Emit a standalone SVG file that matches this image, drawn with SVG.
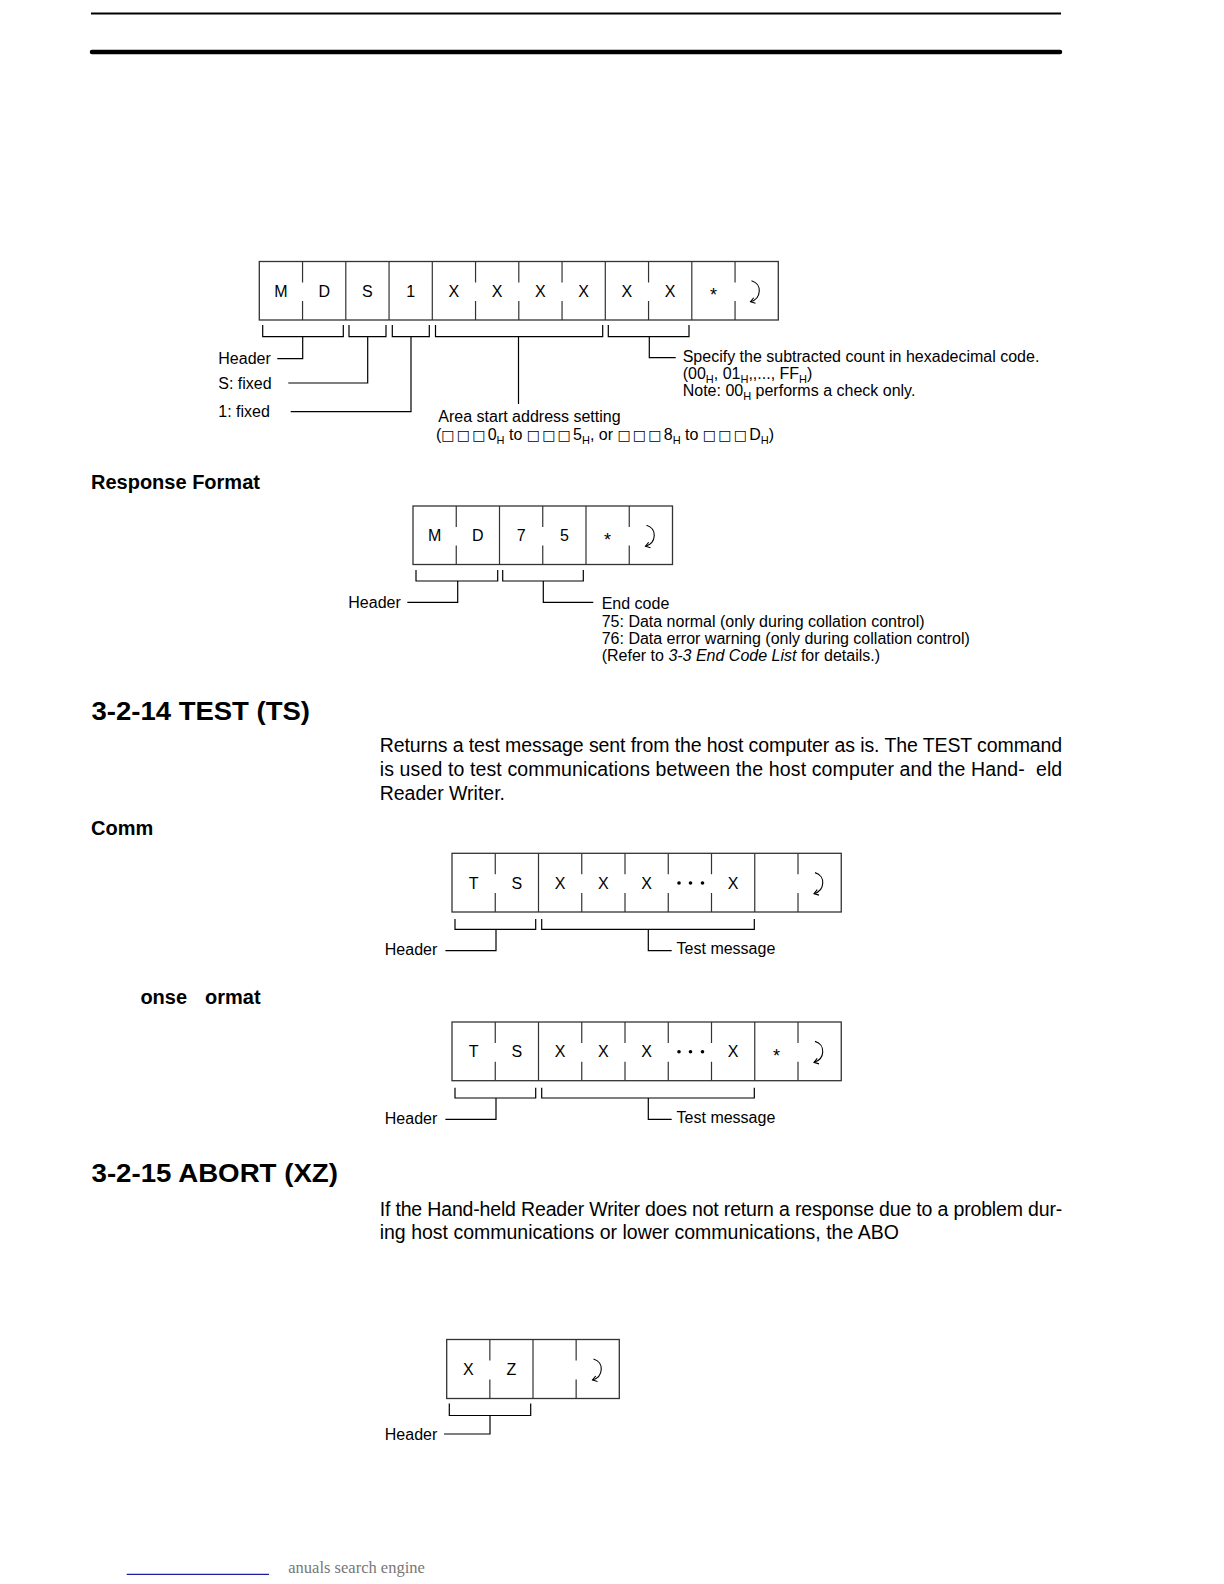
<svg xmlns="http://www.w3.org/2000/svg" xmlns:xlink="http://www.w3.org/1999/xlink" width="1224" height="1584" viewBox="0 0 1224 1584">
<style>
text{font-family:"Liberation Sans",Arial,sans-serif;fill:#000}
.cell{font-size:16px;text-anchor:middle}
.ast{font-size:18px;text-anchor:middle}
.lbl{font-size:16px}
.s{font-size:11px}
.sq{font-family:"DejaVu Sans",sans-serif;font-size:14px;letter-spacing:2.2px}
.h2{font-size:20px;font-weight:bold}
.h1{font-size:26px;font-weight:bold}
.body{font-size:19.5px}
.frame{fill:none;stroke:#333;stroke-width:1.3}
.sep{stroke:#333;stroke-width:1.2}
.br{fill:none;stroke:#000;stroke-width:1.2}
.cr{fill:none;stroke:#000;stroke-width:1.1}
</style>
<defs>
<g id="cr">
<path class="cr" d="M-3,-10 C8,-7 7,8 -4,11"/>
<path class="cr" d="M-0.8,7 L-4,11 L1,12.5"/>
</g>
</defs>

<g id="page-rules">
<line x1="91" y1="13.5" x2="1061" y2="13.5" stroke="#000" stroke-width="2"/>
<line x1="92" y1="52" x2="1060" y2="52" stroke="#000" stroke-width="4.5" stroke-linecap="round"/>
</g>

<!-- Frame A: MDS1 command -->
<g id="frame-mds1">
<rect class="frame" x="259.3" y="261.5" width="519" height="58.5"/>
<path class="sep" d="M302.55,261.5v21M302.55,301v19
M345.8,261.5V320M389.05,261.5V320M432.3,261.5V320
M475.55,261.5v21M475.55,301v19
M518.8,261.5v21M518.8,301v19
M562.05,261.5v21M562.05,301v19
M605.3,261.5V320
M648.55,261.5v21M648.55,301v19
M691.8,261.5V320
M735.05,261.5v21M735.05,301v19"/>
<text class="cell" x="280.9" y="296.5">M</text>
<text class="cell" x="324.2" y="296.5">D</text>
<text class="cell" x="367.4" y="296.5">S</text>
<text class="cell" x="410.7" y="296.5">1</text>
<text class="cell" x="453.9" y="296.5">X</text>
<text class="cell" x="497.2" y="296.5">X</text>
<text class="cell" x="540.4" y="296.5">X</text>
<text class="cell" x="583.7" y="296.5">X</text>
<text class="cell" x="626.9" y="296.5">X</text>
<text class="cell" x="670.2" y="296.5">X</text>
<text class="ast" x="713.4" y="301">*</text>
<use xlink:href="#cr" x="754.5" y="290.75"/>
</g>

<g id="labels-mds1">
<text class="lbl" x="218.3" y="364">Header</text>
<text class="lbl" x="218.3" y="388.5">S: fixed</text>
<text class="lbl" x="218.3" y="416.5">1: fixed</text>
<text class="lbl" x="438.3" y="421.5">Area start address setting</text>
<text class="lbl" x="436" y="440">(<tspan class="sq">□□□</tspan>0<tspan class="s" dy="4">H</tspan><tspan dy="-4"> to </tspan><tspan class="sq">□□□</tspan>5<tspan class="s" dy="4">H</tspan><tspan dy="-4">, or </tspan><tspan class="sq">□□□</tspan>8<tspan class="s" dy="4">H</tspan><tspan dy="-4"> to </tspan><tspan class="sq">□□□</tspan>D<tspan class="s" dy="4">H</tspan><tspan dy="-4">)</tspan></text>
<text class="lbl" x="682.7" y="361.5">Specify the subtracted count in hexadecimal code.</text>
<text class="lbl" x="682.7" y="378.5">(00<tspan class="s" dy="4">H</tspan><tspan dy="-4">, 01</tspan><tspan class="s" dy="4">H</tspan><tspan dy="-4">,,..., FF</tspan><tspan class="s" dy="4">H</tspan><tspan dy="-4">)</tspan></text>
<text class="lbl" x="682.7" y="395.5">Note: 00<tspan class="s" dy="4">H</tspan><tspan dy="-4"> performs a check only.</tspan></text>
</g>

<text class="h2" x="91" y="489">Response Format</text>

<!-- Frame B: MD75 response -->
<g id="frame-md75">
<rect class="frame" x="413" y="506" width="259.5" height="58.5"/>
<path class="sep" d="M456.25,506v21M456.25,545.5v19
M499.5,506V564.5
M542.75,506v21M542.75,545.5v19
M586,506V564.5
M629.25,506v21M629.25,545.5v19"/>
<text class="cell" x="434.6" y="541">M</text>
<text class="cell" x="477.9" y="541">D</text>
<text class="cell" x="521.1" y="541">7</text>
<text class="cell" x="564.4" y="541">5</text>
<text class="ast" x="607.6" y="545.5">*</text>
<use xlink:href="#cr" x="649.5" y="535.25"/>
</g>

<g id="labels-md75">
<text class="lbl" x="348.3" y="608.3">Header</text>
<text class="lbl" x="601.7" y="608.5">End code</text>
<text class="lbl" x="601.7" y="626.5">75: Data normal (only during collation control)</text>
<text class="lbl" x="601.7" y="643.8">76: Data error warning (only during collation control)</text>
<text class="lbl" x="601.7" y="661">(Refer to <tspan font-style="italic">3-3 End Code List</tspan> for details.)</text>
</g>

<text class="h1" x="91.5" y="720" textLength="218.5" lengthAdjust="spacingAndGlyphs">3-2-14 TEST (TS)</text>

<g id="body-test">
<text class="body" x="379.7" y="752" textLength="682.5" lengthAdjust="spacing">Returns a test message sent from the host computer as is. The TEST command</text>
<text class="body" x="379.7" y="775.5" textLength="682.5" lengthAdjust="spacing">is used to test communications between the host computer and the Hand-&#160; eld</text>
<text class="body" x="379.7" y="799.5">Reader Writer.</text>
</g>

<text class="h2" x="91" y="835">Comm</text>

<!-- Frame C: TS command -->
<g id="frame-ts-cmd">
<rect class="frame" x="452" y="853.3" width="389.25" height="58.7"/>
<path class="sep" d="M495.25,853.3v21M495.25,893v19
M538.5,853.3V912
M581.75,853.3v21M581.75,893v19
M625,853.3v21M625,893v19
M668.25,853.3v21M668.25,893v19
M711.5,853.3v21M711.5,893v19
M754.75,853.3V912
M798,853.3v21M798,893v19"/>
<text class="cell" x="473.6" y="888.5">T</text>
<text class="cell" x="516.9" y="888.5">S</text>
<text class="cell" x="560.1" y="888.5">X</text>
<text class="cell" x="603.4" y="888.5">X</text>
<text class="cell" x="646.6" y="888.5">X</text>
<circle cx="679" cy="883" r="1.8"/>
<circle cx="690.5" cy="883" r="1.8"/>
<circle cx="702.5" cy="883" r="1.8"/>
<text class="cell" x="733.1" y="888.5">X</text>
<use xlink:href="#cr" x="818" y="882.65"/>
</g>

<g id="labels-ts-cmd">
<text class="lbl" x="384.8" y="955">Header</text>
<text class="lbl" x="676.6" y="954">Test message</text>
</g>

<text class="h2" y="1004"><tspan x="140.4">onse</tspan><tspan x="205">ormat</tspan></text>

<!-- Frame D: TS response -->
<g id="frame-ts-resp">
<rect class="frame" x="452" y="1022" width="389.25" height="58.7"/>
<path class="sep" d="M495.25,1022v21M495.25,1061.7v19
M538.5,1022V1080.7
M581.75,1022v21M581.75,1061.7v19
M625,1022v21M625,1061.7v19
M668.25,1022v21M668.25,1061.7v19
M711.5,1022v21M711.5,1061.7v19
M754.75,1022V1080.7
M798,1022v21M798,1061.7v19"/>
<text class="cell" x="473.6" y="1057.2">T</text>
<text class="cell" x="516.9" y="1057.2">S</text>
<text class="cell" x="560.1" y="1057.2">X</text>
<text class="cell" x="603.4" y="1057.2">X</text>
<text class="cell" x="646.6" y="1057.2">X</text>
<circle cx="679" cy="1051.7" r="1.8"/>
<circle cx="690.5" cy="1051.7" r="1.8"/>
<circle cx="702.5" cy="1051.7" r="1.8"/>
<text class="cell" x="733.1" y="1057.2">X</text>
<text class="ast" x="776.4" y="1061.8">*</text>
<use xlink:href="#cr" x="818" y="1051.35"/>
</g>

<g id="labels-ts-resp">
<text class="lbl" x="384.8" y="1123.7">Header</text>
<text class="lbl" x="676.6" y="1122.7">Test message</text>
</g>

<text class="h1" x="91.5" y="1182" textLength="246.5" lengthAdjust="spacingAndGlyphs">3-2-15 ABORT (XZ)</text>

<g id="body-abort">
<text class="body" x="379.7" y="1216" textLength="682.5" lengthAdjust="spacing">If the Hand-held Reader Writer does not return a response due to a problem dur-</text>
<text class="body" x="379.7" y="1239.3">ing host communications or lower communications, the ABO</text>
</g>

<!-- Frame E: XZ -->
<g id="frame-xz">
<rect class="frame" x="446.7" y="1339.5" width="172.6" height="59"/>
<path class="sep" d="M489.85,1339.5v21M489.85,1379.5v19
M533,1339.5V1398.5
M576.15,1339.5v21M576.15,1379.5v19"/>
<text class="cell" x="468.3" y="1374.8">X</text>
<text class="cell" x="511.4" y="1374.8">Z</text>
<use xlink:href="#cr" x="596.5" y="1369"/>
</g>

<g id="labels-xz">
<text class="lbl" x="384.8" y="1439.5">Header</text>
</g>

<g id="connectors">
<!-- frame A -->
<path class="br" d="M262.7,325V336.7H343.3V325M302.7,336.7V358.7H277.3"/>
<path class="br" d="M349,325V336.7H386V325M367.7,336.7V383H288.3"/>
<path class="br" d="M392.3,325V336.7H429.3V325M411,336.7V411.7H290.7"/>
<path class="br" d="M435.5,325V336.7H602.7V325M518.5,336.7V404"/>
<path class="br" d="M608.3,325V336.7H689V325M649.3,336.7V357.7H675.7"/>
<!-- frame B -->
<path class="br" d="M416,570V581H497.7V570M457.7,581V602.3H407.3"/>
<path class="br" d="M502.7,570V581H583.3V570M543.3,581V602.3H593.3"/>
<!-- frame C -->
<path class="br" d="M455,919V929.3H535.7V919M496,929.3V950.7H445.4"/>
<path class="br" d="M541.7,919V929.3H754.3V919M648.3,929.3V950.7H671.7"/>
<!-- frame D -->
<path class="br" d="M455,1087.7V1098H535.7V1087.7M496,1098V1119.4H445.4"/>
<path class="br" d="M541.7,1087.7V1098H754.3V1087.7M648.3,1098V1119.4H671.7"/>
<!-- frame E -->
<path class="br" d="M449.3,1403.5V1415.5H530.7V1403.5M490,1415.5V1434H444"/>
</g>

<g id="footer">
<line x1="126.7" y1="1574.3" x2="269" y2="1574.3" stroke="#1c1ca8" stroke-width="1.3"/>
<text x="288.3" y="1572.5" style="font-family:'Liberation Serif',serif;font-size:16.5px;fill:#777">anuals search engine</text>
</g>
</svg>
